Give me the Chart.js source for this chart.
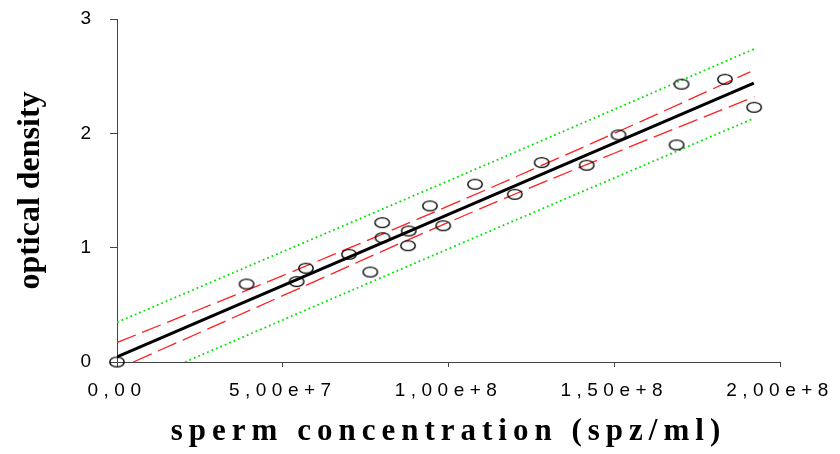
<!DOCTYPE html>
<html>
<head>
<meta charset="utf-8">
<script src="https://cdn.jsdelivr.net/npm/chart.js@4/dist/chart.umd.min.js"></script>
<style>
  body { margin: 0; background: #fff; }
  #wrap { width: 840px; height: 454px; }
</style>
</head>
<body>
<div id="wrap"><canvas id="myChart" width="840" height="454"></canvas></div>
<script>
// measured samples
const concX = [0, 3.91e7, 5.42e7, 5.70e7, 7.0e7, 7.64e7, 8.0e7, 8.01e7, 8.78e7, 8.80e7, 9.44e7,
  9.84e7, 1.08e8, 1.2e8, 1.281e8, 1.417e8, 1.513e8, 1.688e8, 1.703e8, 1.834e8, 1.922e8];
const densY = [0, 0.682, 0.703, 0.82, 0.942, 0.787, 1.219, 1.087, 1.017, 1.146, 1.365,
  1.192, 1.555, 1.467, 1.744, 1.721, 1.986, 1.899, 2.43, 2.473, 2.228];

// regression line and bands
const fitX = [0, 1.921e8];
const fitY = [0.045, 2.44];
const ciUpX = [0, 5e7, 1e8, 1.5e8, 1.91e8];
const ciUpY = [0.17, 0.756, 1.365, 2.0, 2.537];
const ciLoX = [4.9e6, 5e7, 1e8, 1.5e8, 1.923e8];
const ciLoY = [0, 0.58, 1.222, 1.826, 2.32];
const piUpX = [0, 1e8, 1.922e8];
const piUpY = [0.347, 1.585, 2.738];
const piLoX = [2.05e7, 1e8, 1.922e8];
const piLoY = [0, 0.99, 2.132];

const xTicks = [0, 5e7, 1e8, 1.5e8, 2e8];
const yTicks = [0, 1, 2, 3];

function pts(xs, ys) {
  return xs.map((x, i) => ({ x: x, y: ys[i] }));
}

// open ellipse marker
var marker = document.createElement("canvas");
marker.width = 18;
marker.height = 13;
var mctx = marker.getContext("2d");
mctx.strokeStyle = "#000";
mctx.lineWidth = 1.4;
mctx.beginPath();
mctx.ellipse(9, 6.5, 7.2, 4.9, 0, 0, Math.PI * 2);
mctx.stroke();

function fmtSci(v) {
  if (v === 0) return "0,00";
  var e = Math.floor(Math.log10(v));
  var m = v / Math.pow(10, e);
  return m.toFixed(2).replace(".", ",") + "e+" + e;
}

// x axis text is letter-spaced in the original
function withSpacing(fn, sp) {
  return function () {
    var ctx = this.ctx;
    ctx.save();
    ctx.letterSpacing = sp;
    fn.apply(this, arguments);
    ctx.restore();
  };
}
const spacedX = {
  id: "spacedX",
  beforeDraw(chart) {
    var sc = chart.scales.x;
    if (sc.__spaced) return;
    sc.drawLabels = withSpacing(sc.drawLabels, "5.5px");
    sc.drawTitle = withSpacing(sc.drawTitle, "6px");
    sc.__spaced = true;
  },
};

const ctx = document.getElementById("myChart").getContext("2d");
const myChart = new Chart(ctx, {
  type: "scatter",
  data: {
    datasets: [
      {
        label: "samples",
        data: pts(concX, densY),
        pointStyle: marker,
        pointRadius: 7,
        clip: false,
        order: 0,
      },
      {
        label: "fit",
        data: pts(fitX, fitY),
        showLine: true,
        borderColor: "#000",
        borderWidth: 3,
        pointRadius: 0,
        order: 1,
      },
      {
        label: "ci upper",
        data: pts(ciUpX, ciUpY),
        showLine: true,
        borderColor: "#ff2020",
        borderWidth: 1.3,
        borderDash: [20, 7],
        tension: 0.4,
        pointRadius: 0,
        order: 2,
      },
      {
        label: "ci lower",
        data: pts(ciLoX, ciLoY),
        showLine: true,
        borderColor: "#ff2020",
        borderWidth: 1.3,
        borderDash: [20, 7],
        tension: 0.4,
        pointRadius: 0,
        order: 2,
      },
      {
        label: "pi upper",
        data: pts(piUpX, piUpY),
        showLine: true,
        borderColor: "#00e600",
        borderWidth: 1.8,
        borderDash: [1.8, 3],
        tension: 0.4,
        pointRadius: 0,
        order: 3,
      },
      {
        label: "pi lower",
        data: pts(piLoX, piLoY),
        showLine: true,
        borderColor: "#00e600",
        borderWidth: 1.8,
        borderDash: [1.8, 3],
        tension: 0.4,
        pointRadius: 0,
        order: 3,
      },
    ],
  },
  options: {
    responsive: false,
    devicePixelRatio: 1,
    animation: false,
    layout: { padding: { top: 0, right: 60, bottom: 0, left: 0 } },
    plugins: {
      legend: { display: false },
      tooltip: { enabled: false },
    },
    scales: {
      x: {
        type: "linear",
        min: 0,
        max: 2e8,
        afterFit(scale) { scale.height = 92; },
        afterBuildTicks(scale) { scale.ticks = xTicks.map((v) => ({ value: v })); },
        grid: { drawOnChartArea: false, drawTicks: true, tickLength: 5, color: "#444" },
        border: { color: "#444", width: 1 },
        ticks: {
          color: "#000",
          padding: 12,
          maxRotation: 0,
          font: { family: "'Liberation Sans', Arial", size: 19 },
          callback: (v) => fmtSci(v),
        },
        title: {
          display: true,
          text: "sperm concentration (spz/ml)",
          color: "#000",
          padding: { top: 0, bottom: 3 },
          font: { family: "'Liberation Serif', 'Times New Roman'", size: 31, weight: "bold" },
        },
      },
      y: {
        type: "linear",
        min: 0,
        max: 3,
        afterFit(scale) {
          scale.width = 117;
          scale.paddingTop = 19;
        },
        afterBuildTicks(scale) { scale.ticks = yTicks.map((v) => ({ value: v })); },
        grid: { drawOnChartArea: false, drawTicks: true, tickLength: 7, color: "#444" },
        border: { color: "#444", width: 1 },
        ticks: {
          color: "#000",
          padding: 19,
          font: { family: "'Liberation Sans', Arial", size: 19 },
        },
        title: {
          display: true,
          text: "optical density",
          color: "#000",
          padding: { top: 12, bottom: 0 },
          font: { family: "'Liberation Serif', 'Times New Roman'", size: 32, weight: "bold" },
        },
      },
    },
  },
  plugins: [spacedX],
});
</script>
</body>
</html>
